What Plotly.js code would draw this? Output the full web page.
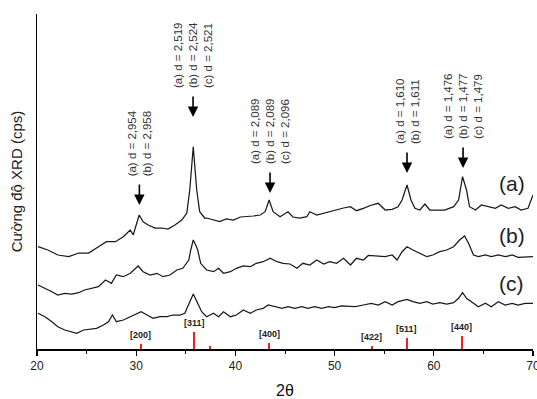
<!DOCTYPE html>
<html>
<head>
<meta charset="utf-8">
<script src="https://cdn.plot.ly/plotly-3.0.1.min.js"></script>
<style>html,body{margin:0;padding:0;background:#fff}#chart{width:537px;height:399px}</style>
</head>
<body>
<div id="chart"></div>
<script>
// ---- data (2θ in degrees, intensity in arbitrary units) ----
var thetaA = [20.1,21.1,22.1,23.2,24.2,25.2,26.2,27.0,27.9,28.7,29.4,29.7,30.3,30.7,31.2,31.9,32.6,33.2,33.9,34.6,35.1,35.4,35.75,36.1,36.4,36.9,37.1,37.8,38.4,39.1,39.8,40.5,41.1,41.8,42.5,43.0,43.4,43.8,44.5,45.3,45.8,46.5,47.2,47.5,48.2,48.9,49.5,50.2,50.9,51.6,52.2,52.9,53.6,54.4,55.1,55.8,56.4,56.8,57.3,57.7,58.1,58.6,59.1,59.6,60.3,61.1,62.0,62.5,62.9,63.3,63.6,64.2,64.8,65.5,66.2,66.8,67.5,68.2,68.8,69.5,70.0];
var intensityA = [102.3,99,94,92.3,96,96,102.3,107.3,107.3,112.3,119,114,134,127.3,124,121,121,120,124,129,136,159,202.3,159,137.3,131,131,129,127.3,130,129,132,132.3,133,134,137.3,149,137.3,132.3,137.3,132,131,132.3,137.3,134,136,137.3,139,141,142.3,138.3,140.7,143.5,145.7,139,139.7,142.3,149,164,149,140.7,139,145,139,139,139,142.3,149,172.3,159,142.3,139,144,142.3,140.7,144,140.7,142.3,139,140.7,154];

var thetaB = [20.1,20.8,21.5,22.1,22.8,23.5,24.2,24.8,25.5,26.2,26.9,27.5,28.0,28.7,29.4,30.2,30.7,31.4,32.1,32.7,33.4,34.1,34.7,35.3,35.5,35.75,36.0,36.2,36.5,36.9,37.1,37.8,38.3,38.8,39.5,40.1,40.8,41.5,42.1,42.8,43.5,44.2,44.8,45.5,46.2,46.8,47.5,48.2,48.9,49.5,50.2,50.9,51.6,52.2,52.9,53.4,54.0,54.4,55.1,55.8,56.3,56.8,57.3,57.9,58.6,59.3,59.9,60.6,61.3,62.0,62.6,63.1,63.5,64.0,64.5,65.2,65.8,66.5,67.2,67.9,68.5,69.2,70.0];
var intensityB = [64,61,57.3,54,55.7,55,56.3,59,60.7,62.3,69,65.7,74,72.3,75.7,83,77.3,74,75.7,72.3,74,79,80.7,89,99,109,104,99,85.7,80.7,79,77.3,80.7,75.7,77.3,80.7,83,82.3,85.7,87.3,90.7,87.3,85.7,85,80.7,85.7,84,89,85,87.3,85.7,90.7,84,90.7,89,93.5,93,92.3,92.3,94,89,97.3,102.3,99,95.7,92.3,94,97.3,99,102.3,109,113,105.7,94,92.3,94,92.3,94,92.3,94,91.7,92.3,92.3];

var thetaC = [20.1,20.8,21.5,22.1,22.8,23.5,24.0,24.7,25.3,26.0,26.7,27.2,27.6,28.0,28.7,29.4,29.9,30.5,31.1,31.7,32.4,33.1,33.7,34.4,34.9,35.3,35.75,36.2,36.6,37.1,37.8,38.3,38.8,39.5,40.1,40.8,41.5,42.1,42.8,43.3,44.0,44.7,45.3,46.0,46.7,47.3,48.0,48.7,49.4,50.0,50.7,51.4,52.1,52.9,53.7,54.4,55.1,55.8,56.4,57.3,57.9,58.6,59.3,59.9,60.6,61.3,62.0,62.5,62.9,63.3,63.8,64.5,65.2,65.8,66.5,67.2,67.9,68.5,69.2,70.0];
var intensityC = [35.7,32.3,27.3,22.3,19,17.3,15.7,19,19.7,20.7,24,27.3,34,27.3,29,32.3,34,37.3,34,30.7,32.3,32.3,34,34,35.7,45.7,55,45.7,37.3,32.3,35.7,32.3,37.3,32.3,34,39,35.7,39,40.7,44,42.3,40.7,42.3,40.7,42.3,40.7,42.3,40.7,42.3,41.3,43,42.3,42.3,44,45.7,44,47.3,44,47.3,49.7,47.3,45.7,47.3,45,46.3,45,46.3,50.7,56.3,50.7,47.3,42.3,45.7,42.3,47.3,44,45.7,44,45.7,45.7];

// reference pattern sticks
var hklLabels = ['[200]','[311]','','[400]','[422]','[511]','[440]'];
var hklTheta = [30.46,35.85,37.4,43.4,53.76,57.25,62.84];
var hklIntensity = [5,17,3,6,3,11,13.5];

// annotated peaks
var peakTheta = [30.32,35.73,43.49,57.3,62.95];
var peakDLabels = [
  ['(a) d = 2,954','(b) d = 2,958'],
  ['(a) d = 2,519','(b) d = 2,524','(c) d = 2,521'],
  ['(a) d = 2,089','(b) d = 2,089','(c) d = 2,096'],
  ['(a) d = 1,610','(b) d = 1,611'],
  ['(a) d = 1,476','(b) d = 1,477','(c) d = 1,479']
];
var peakHeadLevel = [144,232,156,176,181];

var seriesNames = ['(a)','(b)','(c)'];
var seriesLabelLevel = [165.7,114,65.7];

// ---- build ----
var FONT = 'Liberation Sans, Arial, sans-serif';
var lineStyle = {color:'#1a1a1a', width:1.25};
var traces = [
  {x:thetaA, y:intensityA, type:'scatter', mode:'lines', line:lineStyle, hoverinfo:'skip'},
  {x:thetaB, y:intensityB, type:'scatter', mode:'lines', line:lineStyle, hoverinfo:'skip'},
  {x:thetaC, y:intensityC, type:'scatter', mode:'lines', line:lineStyle, hoverinfo:'skip'},
  {x:hklTheta, y:hklIntensity, type:'bar', width:0.2, marker:{color:'#ff1a1a', line:{width:0}}, hoverinfo:'skip'}
];

var annotations = [];
hklLabels.forEach(function(t,i){
  if(!t) return;
  annotations.push({x:hklTheta[i], y:hklIntensity[i], xref:'x', yref:'y', text:'<b>'+t+'</b>',
    showarrow:false, xanchor:'center', yanchor:'bottom', yshift:2, font:{family:FONT,size:9,color:'#222'}});
});
peakTheta.forEach(function(px,i){
  var head = peakHeadLevel[i];
  annotations.push({x:px, y:head, xref:'x', yref:'y', ax:px, ay:head+22, axref:'x', ayref:'y',
    text:'', showarrow:true, arrowhead:2, arrowsize:1.3, arrowwidth:1.6, arrowcolor:'#000'});
  annotations.push({x:px, y:head+27, xref:'x', yref:'y', text:peakDLabels[i].join('<br>'),
    textangle:-90, showarrow:false, xanchor:'center', yanchor:'bottom', align:'left',
    font:{family:FONT,size:11.5,color:'#333'}});
});
seriesNames.forEach(function(n,i){
  annotations.push({x:67.85, y:seriesLabelLevel[i], xref:'x', yref:'y', text:n, showarrow:false,
    xanchor:'center', yanchor:'middle', font:{family:FONT,size:21,color:'#222'}});
});

var layout = {
  width:537, height:399,
  margin:{l:37, r:4, t:14, b:50},
  paper_bgcolor:'#fff', plot_bgcolor:'#fff',
  showlegend:false,
  font:{family:FONT, color:'#222'},
  xaxis:{range:[20,70], tickvals:[20,30,40,50,60,70], ticks:'outside', ticklen:5, tickwidth:1.3, tickcolor:'#000',
    minor:{tickvals:[25,35,45,55,65], ticks:'outside', ticklen:3, tickwidth:1, tickcolor:'#000'},
    showline:true, linecolor:'#000', linewidth:1.5, showgrid:false, zeroline:false,
    ticklabeloverflow:'allow',
    tickfont:{family:FONT,size:12,color:'#222'},
    title:{text:'2θ', font:{family:FONT,size:16,color:'#111'}, standoff:14}},
  yaxis:{range:[0,335], showline:true, linecolor:'#000', linewidth:1.5, showgrid:false, zeroline:false,
    ticks:'', showticklabels:false,
    title:{text:'Cường độ XRD (cps)', font:{family:FONT,size:15,color:'#222'}, standoff:9}},
  annotations:annotations,
  bargap:0
};
Plotly.newPlot('chart', traces, layout, {staticPlot:true, displayModeBar:false});
</script>
</body>
</html>
